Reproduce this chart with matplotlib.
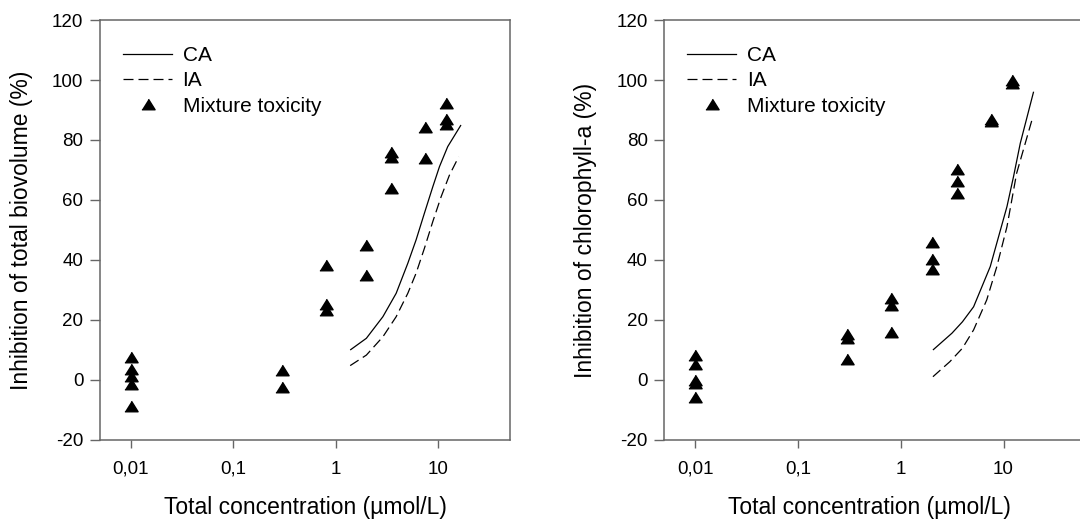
import matplotlib
matplotlib.use("Agg")
import matplotlib.pyplot as plt
from matplotlib.lines import Line2D

plt.rcParams['font.family'] = ['Liberation Sans', 'DejaVu Sans']
plt.rcParams['axes.unicode_minus'] = False

# ---- data: total biovolume ----
bio_conc = [0.01, 0.01, 0.01, 0.01, 0.01,
            0.3, 0.3,
            0.8, 0.8, 0.8,
            2, 2,
            3.5, 3.5, 3.5,
            7.5, 7.5,
            12, 12, 12]
bio_inhib = [7.6, 3.7, 1.4, -1.4, -8.5,
             3.3, -2.2,
             38.5, 25.5, 23.5,
             45, 35,
             76, 74.5, 64,
             84.5, 74,
             92.5, 87, 85.5]
bio_ca_conc = [1.39, 2.0, 2.9, 3.91, 5.08, 6.12, 7.38, 8.91, 10.35, 12.47, 16.8]
bio_ca_val = [10, 13.9, 21.1, 28.9, 38.9, 46.7, 55.6, 64.4, 71.1, 77.8, 85]
bio_ia_conc = [1.39, 2.0, 2.9, 3.91, 5.08, 6.12, 7.38, 8.91, 10.75, 12.96, 15.96]
bio_ia_val = [4.8, 8.3, 14.4, 21.1, 28.9, 35.6, 43.9, 52.8, 61.1, 68.3, 74.4]

# ---- data: chlorophyll-a ----
chl_conc = [0.01, 0.01, 0.01, 0.01, 0.01,
            0.3, 0.3, 0.3,
            0.8, 0.8, 0.8,
            2, 2, 2,
            3.5, 3.5, 3.5,
            7.5, 7.5,
            12, 12]
chl_inhib = [8.5, 5.5, 0, -1, -5.5,
             15.5, 14, 7,
             27.5, 25, 16,
             46, 40.5, 37,
             70.5, 66.5, 62.5,
             87, 86.5,
             100, 99]
chl_ca_conc = [2.055, 3.146, 3.98, 5.11, 7.42, 10.79, 12.5, 14.54, 19.6]
chl_ca_val = [10, 15.6, 19.4, 24.4, 37.8, 57.8, 67.8, 78.9, 96.1]
chl_ia_conc = [2.055, 3.0, 3.98, 5.11, 6.86, 8.6, 10.79, 13.4, 19.3]
chl_ia_val = [1.1, 6.1, 10.6, 16.7, 26.7, 37.8, 51.1, 68.9, 87.8]

xtick_vals = [0.01, 0.1, 1, 10]
xtick_labels = ['0,01', '0,1', '1', '10']
ytick_vals = [-20, 0, 20, 40, 60, 80, 100, 120]

W, H = 1080, 528
fig = plt.figure(figsize=(W / 100, H / 100), dpi=100)

tri = [(-1, -0.8), (1, -0.8), (0, 0.8)]
spine_col = '#666666'


def panel(rect, xlim, conc, inhib, ca_c, ca_v, ia_c, ia_v, ylabel, xlabel_x):
    ax = fig.add_axes(rect)
    ax.set_xscale('log')
    ax.set_xlim(*xlim)
    ax.set_ylim(-20, 120)
    ax.plot(ca_c, ca_v, color='black', lw=0.9, solid_capstyle='butt')
    ax.plot(ia_c, ia_v, color='black', lw=0.9, dashes=(8, 4))
    ax.plot(conc, inhib, linestyle='none', marker=tri, markersize=9.5,
            color='black', clip_on=False)
    ax.set_xticks(xtick_vals)
    ax.set_xticklabels(xtick_labels)
    ax.xaxis.set_minor_locator(matplotlib.ticker.NullLocator())
    ax.set_yticks(ytick_vals)
    ax.tick_params(axis='both', which='major', labelsize=13.5, color=spine_col,
                   direction='out', width=1)
    ax.tick_params(axis='x', length=6, pad=9)
    ax.tick_params(axis='y', length=7, pad=5)
    for s in ax.spines.values():
        s.set_color(spine_col)
        s.set_linewidth(1.1)
    ax.set_ylabel(ylabel, fontsize=16.5)
    ax.set_xlabel('Total concentration (\u00b5mol/L)', fontsize=16.5)
    # label placement in axes-fraction units
    axw = rect[2] * W
    axh = rect[3] * H
    ax.yaxis.set_label_coords(-67 / axw, 0.5)
    x0 = rect[0] * W
    ax.xaxis.set_label_coords((xlabel_x - x0) / axw, -56 / axh)
    handles = [Line2D([], [], color='black', lw=0.9),
               Line2D([], [], color='black', lw=0.9, dashes=(8, 4)),
               Line2D([], [], linestyle='none', marker=tri, markersize=9.5,
                      color='black')]
    ax.legend(handles, ['CA', 'IA', 'Mixture toxicity'], loc='upper left',
              bbox_to_anchor=(23 / axw, 1 - 26 / axh), frameon=False,
              fontsize=15, handlelength=2.36, handletextpad=0.5,
              labelspacing=0.3, borderpad=0, borderaxespad=0)
    return ax


panel([100 / W, 88 / H, 410 / W, 420 / H], (0.005, 50.6),
      bio_conc, bio_inhib, bio_ca_conc, bio_ca_val, bio_ia_conc, bio_ia_val,
      'Inhibition of total biovolume (%)', 305)
panel([664.3 / W, 88 / H, (1085 - 664.3) / W, 420 / H], (0.005, 62),
      chl_conc, chl_inhib, chl_ca_conc, chl_ca_val, chl_ia_conc, chl_ia_val,
      'Inhibition of chlorophyll-a (%)', 869)

fig.savefig('out.png', dpi=100)
